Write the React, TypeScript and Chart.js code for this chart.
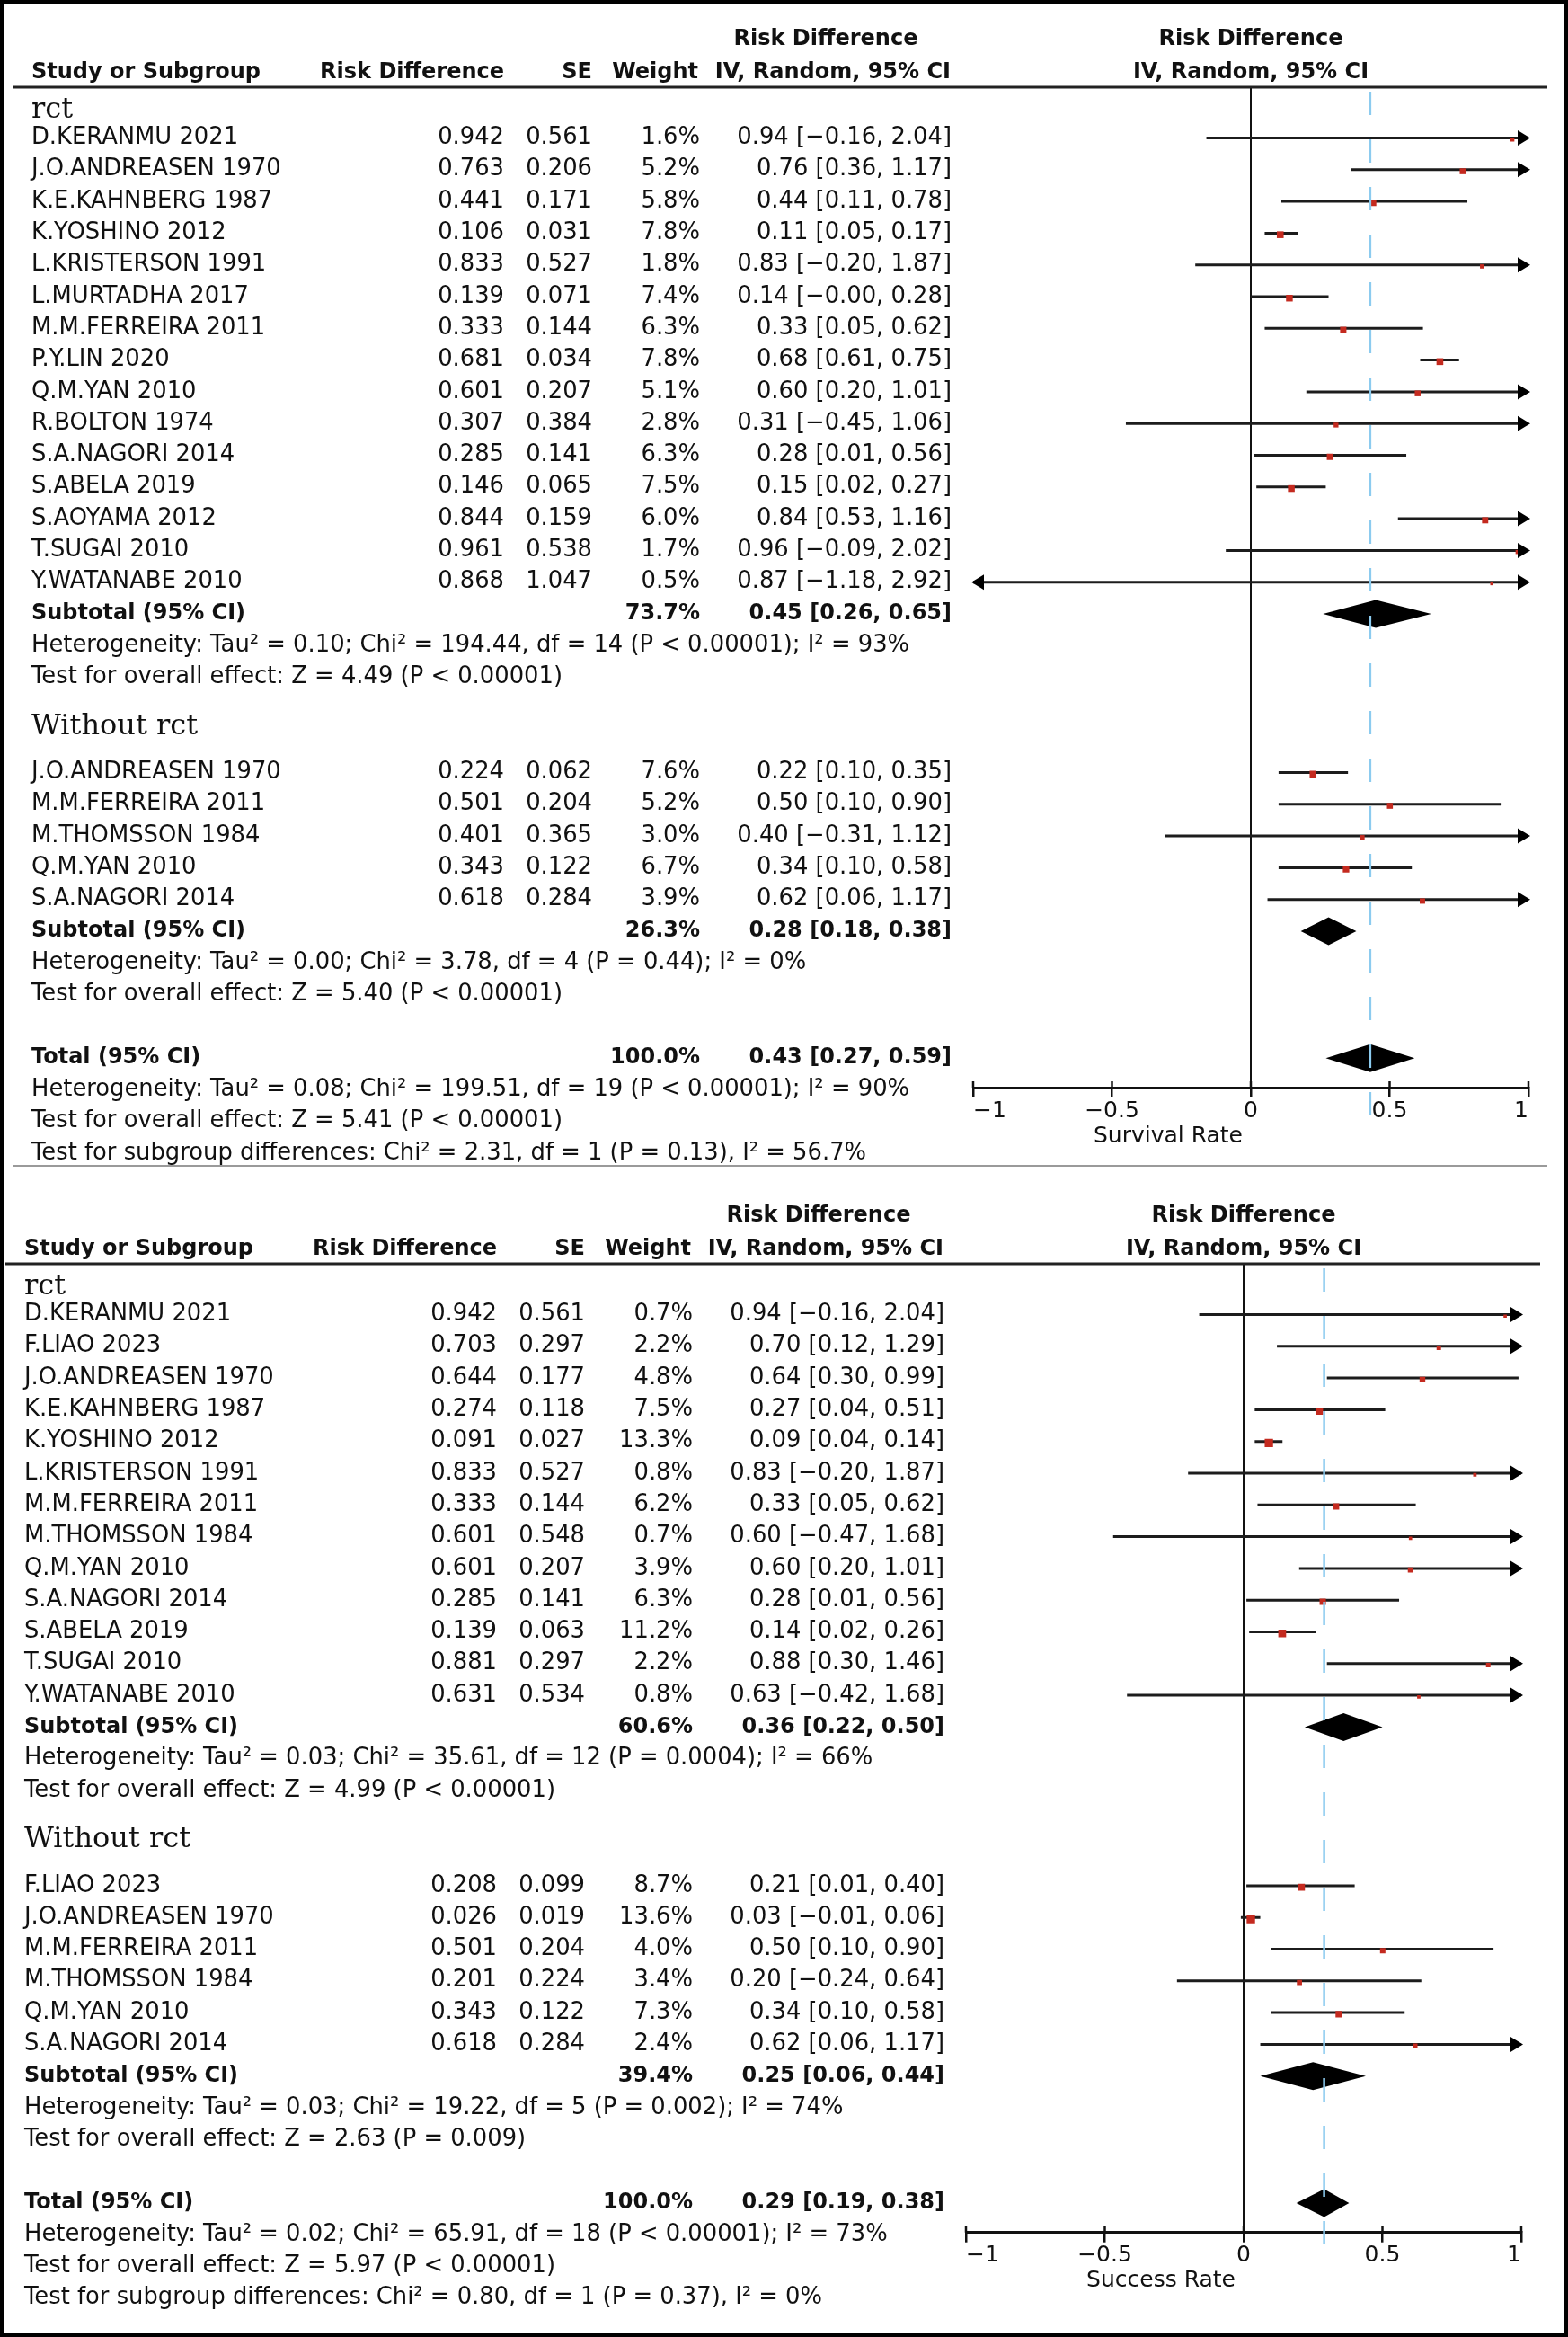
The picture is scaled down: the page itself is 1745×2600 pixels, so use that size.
import React, { useEffect, useRef } from "react";
import { Chart, registerables } from "chart.js";

Chart.register(...registerables);

// ================= Panel 1 — Survival Rate =================
const survRctStudies = ["D.KERANMU 2021", "J.O.ANDREASEN 1970", "K.E.KAHNBERG 1987", "K.YOSHINO 2012", "L.KRISTERSON 1991", "L.MURTADHA 2017", "M.M.FERREIRA 2011", "P.Y.LIN 2020", "Q.M.YAN 2010", "R.BOLTON 1974", "S.A.NAGORI 2014", "S.ABELA 2019", "S.AOYAMA 2012", "T.SUGAI 2010", "Y.WATANABE 2010"];
const survRctRD = [0.942, 0.763, 0.441, 0.106, 0.833, 0.139, 0.333, 0.681, 0.601, 0.307, 0.285, 0.146, 0.844, 0.961, 0.868];
const survRctSE = [0.561, 0.206, 0.171, 0.031, 0.527, 0.071, 0.144, 0.034, 0.207, 0.384, 0.141, 0.065, 0.159, 0.538, 1.047];
const survRctWeight = [1.6, 5.2, 5.8, 7.8, 1.8, 7.4, 6.3, 7.8, 5.1, 2.8, 6.3, 7.5, 6.0, 1.7, 0.5];
const survRctLow = [-0.16, 0.36, 0.11, 0.05, -0.2, -0.0, 0.05, 0.61, 0.2, -0.45, 0.01, 0.02, 0.53, -0.09, -1.18];
const survRctHigh = [2.04, 1.17, 0.78, 0.17, 1.87, 0.28, 0.62, 0.75, 1.01, 1.06, 0.56, 0.27, 1.16, 2.02, 2.92];
const survRctSummary = [0.45, 0.26, 0.65];
const survRctSummaryWeight = 73.7;
const survRctHet = "Heterogeneity: Tau² = 0.10; Chi² = 194.44, df = 14 (P < 0.00001); I² = 93%";
const survRctTest = "Test for overall effect: Z = 4.49 (P < 0.00001)";

const survNonStudies = ["J.O.ANDREASEN 1970", "M.M.FERREIRA 2011", "M.THOMSSON 1984", "Q.M.YAN 2010", "S.A.NAGORI 2014"];
const survNonRD = [0.224, 0.501, 0.401, 0.343, 0.618];
const survNonSE = [0.062, 0.204, 0.365, 0.122, 0.284];
const survNonWeight = [7.6, 5.2, 3.0, 6.7, 3.9];
const survNonLow = [0.1, 0.1, -0.31, 0.1, 0.06];
const survNonHigh = [0.35, 0.9, 1.12, 0.58, 1.17];
const survNonSummary = [0.28, 0.18, 0.38];
const survNonSummaryWeight = 26.3;
const survNonHet = "Heterogeneity: Tau² = 0.00; Chi² = 3.78, df = 4 (P = 0.44); I² = 0%";
const survNonTest = "Test for overall effect: Z = 5.40 (P < 0.00001)";

const survTotal = [0.43, 0.27, 0.59];
const survTotalWeight = 100.0;
const survTotalHet = "Heterogeneity: Tau² = 0.08; Chi² = 199.51, df = 19 (P < 0.00001); I² = 90%";
const survTotalTest = "Test for overall effect: Z = 5.41 (P < 0.00001)";
const survSubgroupTest = "Test for subgroup differences: Chi² = 2.31, df = 1 (P = 0.13), I² = 56.7%";
const survAxisTitle = "Survival Rate";

// ================= Panel 2 — Success Rate =================
const succRctStudies = ["D.KERANMU 2021", "F.LIAO 2023", "J.O.ANDREASEN 1970", "K.E.KAHNBERG 1987", "K.YOSHINO 2012", "L.KRISTERSON 1991", "M.M.FERREIRA 2011", "M.THOMSSON 1984", "Q.M.YAN 2010", "S.A.NAGORI 2014", "S.ABELA 2019", "T.SUGAI 2010", "Y.WATANABE 2010"];
const succRctRD = [0.942, 0.703, 0.644, 0.274, 0.091, 0.833, 0.333, 0.601, 0.601, 0.285, 0.139, 0.881, 0.631];
const succRctSE = [0.561, 0.297, 0.177, 0.118, 0.027, 0.527, 0.144, 0.548, 0.207, 0.141, 0.063, 0.297, 0.534];
const succRctWeight = [0.7, 2.2, 4.8, 7.5, 13.3, 0.8, 6.2, 0.7, 3.9, 6.3, 11.2, 2.2, 0.8];
const succRctLow = [-0.16, 0.12, 0.3, 0.04, 0.04, -0.2, 0.05, -0.47, 0.2, 0.01, 0.02, 0.3, -0.42];
const succRctHigh = [2.04, 1.29, 0.99, 0.51, 0.14, 1.87, 0.62, 1.68, 1.01, 0.56, 0.26, 1.46, 1.68];
const succRctSummary = [0.36, 0.22, 0.5];
const succRctSummaryWeight = 60.6;
const succRctHet = "Heterogeneity: Tau² = 0.03; Chi² = 35.61, df = 12 (P = 0.0004); I² = 66%";
const succRctTest = "Test for overall effect: Z = 4.99 (P < 0.00001)";

const succNonStudies = ["F.LIAO 2023", "J.O.ANDREASEN 1970", "M.M.FERREIRA 2011", "M.THOMSSON 1984", "Q.M.YAN 2010", "S.A.NAGORI 2014"];
const succNonRD = [0.208, 0.026, 0.501, 0.201, 0.343, 0.618];
const succNonSE = [0.099, 0.019, 0.204, 0.224, 0.122, 0.284];
const succNonWeight = [8.7, 13.6, 4.0, 3.4, 7.3, 2.4];
const succNonLow = [0.01, -0.01, 0.1, -0.24, 0.1, 0.06];
const succNonHigh = [0.4, 0.06, 0.9, 0.64, 0.58, 1.17];
const succNonSummary = [0.25, 0.06, 0.44];
const succNonSummaryWeight = 39.4;
const succNonHet = "Heterogeneity: Tau² = 0.03; Chi² = 19.22, df = 5 (P = 0.002); I² = 74%";
const succNonTest = "Test for overall effect: Z = 2.63 (P = 0.009)";

const succTotal = [0.29, 0.19, 0.38];
const succTotalWeight = 100.0;
const succTotalHet = "Heterogeneity: Tau² = 0.02; Chi² = 65.91, df = 18 (P < 0.00001); I² = 73%";
const succTotalTest = "Test for overall effect: Z = 5.97 (P < 0.00001)";
const succSubgroupTest = "Test for subgroup differences: Chi² = 0.80, df = 1 (P = 0.37), I² = 0%";
const succAxisTitle = "Success Rate";

const groupLabels = ["rct", "Without rct"];
const axisTicks = [-1, -0.5, 0, 0.5, 1];

// ================= types & assembly =================
type Group = {
  label: string; studies: string[]; rd: number[]; se: number[]; weight: number[];
  low: number[]; high: number[]; summary: number[]; summaryWeight: number; het: string; test: string;
};
type PanelData = {
  groups: Group[]; total: number[]; totalWeight: number; totalHet: string; totalTest: string;
  subgroupTest: string; axisTitle: string;
};

const survival: PanelData = {
  groups: [
    { label: groupLabels[0], studies: survRctStudies, rd: survRctRD, se: survRctSE, weight: survRctWeight, low: survRctLow, high: survRctHigh, summary: survRctSummary, summaryWeight: survRctSummaryWeight, het: survRctHet, test: survRctTest },
    { label: groupLabels[1], studies: survNonStudies, rd: survNonRD, se: survNonSE, weight: survNonWeight, low: survNonLow, high: survNonHigh, summary: survNonSummary, summaryWeight: survNonSummaryWeight, het: survNonHet, test: survNonTest },
  ],
  total: survTotal, totalWeight: survTotalWeight, totalHet: survTotalHet, totalTest: survTotalTest,
  subgroupTest: survSubgroupTest, axisTitle: survAxisTitle,
};
const success: PanelData = {
  groups: [
    { label: groupLabels[0], studies: succRctStudies, rd: succRctRD, se: succRctSE, weight: succRctWeight, low: succRctLow, high: succRctHigh, summary: succRctSummary, summaryWeight: succRctSummaryWeight, het: succRctHet, test: succRctTest },
    { label: groupLabels[1], studies: succNonStudies, rd: succNonRD, se: succNonSE, weight: succNonWeight, low: succNonLow, high: succNonHigh, summary: succNonSummary, summaryWeight: succNonSummaryWeight, het: succNonHet, test: succNonTest },
  ],
  total: succTotal, totalWeight: succTotalWeight, totalHet: succTotalHet, totalTest: succTotalTest,
  subgroupTest: succSubgroupTest, axisTitle: succAxisTitle,
};

// ================= layout constants =================
const W = 1745;
const ROW = 35.3;
const AXIS_H = 60;
const Y_MIN = -1.6;
type PanelLayout = { top: number; height: number; padTop: number; dx: number };
const layouts: PanelLayout[] = [
  { top: 0, height: 1297, padTop: 97, dx: 0 },
  { top: 1297, height: 1303, padTop: 109, dx: -8 },
];
const COL = { name: 35, rd: 561, se: 659, weight: 779, weightHdr: 777, ci: 1059, ciHdr: 1058, topHdr: 919, lineL: 14, lineR: 1722, plotL: 1083, plotR: 1701 };
const SANS = '"DejaVu Sans"';
const F_REG = `25.8px ${SANS}`;
const F_AXIS = `25px ${SANS}`;
const F_BOLD = `bold 24px ${SANS}`;
const F_SERIF = `32px "DejaVu Serif"`;
const INK = "#111";
const RED = "#c42a1f";
const BLUE = "#8ccbef";

function fmt(v: number) {
  const neg = v < 0 || Object.is(v, -0);
  return (neg ? "\u2212" : "") + Math.abs(v).toFixed(2);
}
function ciText(est: number, lo: number, hi: number) {
  return `${fmt(est)} [${fmt(lo)}, ${fmt(hi)}]`;
}

type RowPlan = {
  groups: { heading: number; start: number; subtotal: number; het: number; test: number }[];
  total: number; totalHet: number; totalTest: number; subgroup: number; yMax: number;
};
function planRows(p: PanelData): RowPlan {
  const groups: RowPlan["groups"] = [];
  let prevTest = -3;
  p.groups.forEach((g, gi) => {
    const start = gi === 0 ? 0 : prevTest + 3;
    const heading = start - (gi === 0 ? 0.88 : 1.45);
    const subtotal = start + g.studies.length;
    groups.push({ heading, start, subtotal, het: subtotal + 1, test: subtotal + 2 });
    prevTest = subtotal + 2;
  });
  const total = prevTest + 2;
  return { groups, total, totalHet: total + 1, totalTest: total + 2, subgroup: total + 3, yMax: total + 0.93 };
}

function ForestPanel({ data, layout }: { data: PanelData; layout: PanelLayout }) {
  const ref = useRef<HTMLCanvasElement | null>(null);
  useEffect(() => {
    if (!ref.current) return;
    const plan = planRows(data);
    const dx = layout.dx;
    const padLeft = COL.plotL + dx;
    const padRight = W - (COL.plotR + dx);
    const padBottom = layout.height - layout.padTop - (plan.yMax - Y_MIN) * ROW - AXIS_H;

    const ciPts: { x: number | null; y: number | null }[] = [];
    const sqPts: { x: number; y: number }[] = [];
    const sqRad: number[] = [];
    data.groups.forEach((g, gi) => {
      g.studies.forEach((_, i) => {
        const r = plan.groups[gi].start + i;
        ciPts.push({ x: Math.max(g.low[i], -1), y: r }, { x: Math.min(g.high[i], 1), y: r }, { x: null, y: null });
        sqPts.push({ x: g.rd[i], y: r + 0.05 });
        const side = 2 + 2 * Math.sqrt(g.weight[i]);
        sqRad.push(side / Math.SQRT2);
      });
    });

    const forest = {
      id: "forest",
      beforeDatasetsDraw(chart: any) {
        const { ctx, chartArea } = chart;
        const X = (v: number) => chart.scales.x.getPixelForValue(v);
        ctx.save();
        ctx.strokeStyle = INK;
        ctx.lineWidth = 2;
        ctx.beginPath();
        ctx.moveTo(X(0), chartArea.top);
        ctx.lineTo(X(0), chartArea.bottom);
        ctx.stroke();
        ctx.restore();
      },
      afterDatasetsDraw(chart: any) {
        const { ctx, chartArea } = chart;
        const X = (v: number) => chart.scales.x.getPixelForValue(v);
        const Y = (v: number) => chart.scales.y.getPixelForValue(v);
        ctx.save();
        ctx.fillStyle = "#000";
        // arrows for intervals outside the axis range
        data.groups.forEach((g, gi) => {
          g.studies.forEach((_, i) => {
            const y = Y(plan.groups[gi].start + i);
            const draw = (dir: number) => {
              const tip = X(dir) + dir * 2;
              ctx.beginPath();
              ctx.moveTo(tip, y);
              ctx.lineTo(tip - dir * 14, y - 8.5);
              ctx.lineTo(tip - dir * 14, y + 8.5);
              ctx.closePath();
              ctx.fill();
            };
            if (g.high[i] > 1) draw(1);
            if (g.low[i] < -1) draw(-1);
          });
        });
        // diamonds
        const diamond = (s: number[], r: number) => {
          const y = Y(r);
          ctx.beginPath();
          ctx.moveTo(X(s[1]), y);
          ctx.lineTo(X(s[0]), y - 15.5);
          ctx.lineTo(X(s[2]), y);
          ctx.lineTo(X(s[0]), y + 15.5);
          ctx.closePath();
          ctx.fill();
        };
        data.groups.forEach((g, gi) => diamond(g.summary, plan.groups[gi].subtotal));
        diamond(data.total, plan.total);
        // pooled-estimate dashed line
        ctx.strokeStyle = BLUE;
        ctx.lineWidth = 2.5;
        ctx.setLineDash([26, 27]);
        ctx.beginPath();
        ctx.moveTo(X(data.total[0]), chartArea.top + 5);
        ctx.lineTo(X(data.total[0]), chartArea.bottom + 32);
        ctx.stroke();
        ctx.restore();
      },
      afterDraw(chart: any) {
        const { ctx, chartArea } = chart;
        const xs = chart.scales.x;
        const X = (v: number) => xs.getPixelForValue(v);
        const Y = (v: number) => chart.scales.y.getPixelForValue(v);
        ctx.save();
        // header underline
        ctx.strokeStyle = "#222";
        ctx.lineWidth = 3;
        ctx.beginPath();
        ctx.moveTo(COL.lineL + dx, chartArea.top);
        ctx.lineTo(COL.lineR + dx, chartArea.top);
        ctx.stroke();
        // upward tick stubs
        ctx.strokeStyle = INK;
        ctx.lineWidth = 2.5;
        xs.ticks.forEach((t: any) => {
          ctx.beginPath();
          ctx.moveTo(X(t.value), chartArea.bottom - 7);
          ctx.lineTo(X(t.value), chartArea.bottom);
          ctx.stroke();
        });
        ctx.fillStyle = INK;
        ctx.textBaseline = "middle";
        const txt = (s: string, x: number, r: number, align: CanvasTextAlign, font: string) => {
          ctx.font = font;
          ctx.textAlign = align;
          ctx.fillText(s, x + dx, Y(r));
        };
        const plotMid = (chartArea.left + chartArea.right) / 2 - dx;
        // column headers
        txt("Risk Difference", COL.topHdr, -3.12, "center", F_BOLD);
        txt("Risk Difference", plotMid, -3.12, "center", F_BOLD);
        txt("Study or Subgroup", COL.name, -2.07, "left", F_BOLD);
        txt("Risk Difference", COL.rd, -2.07, "right", F_BOLD);
        txt("SE", COL.se, -2.07, "right", F_BOLD);
        txt("Weight", COL.weightHdr, -2.07, "right", F_BOLD);
        txt("IV, Random, 95% CI", COL.ciHdr, -2.07, "right", F_BOLD);
        txt("IV, Random, 95% CI", plotMid, -2.07, "center", F_BOLD);
        // groups
        data.groups.forEach((g, gi) => {
          const pl = plan.groups[gi];
          txt(g.label, COL.name, pl.heading, "left", F_SERIF);
          g.studies.forEach((name, i) => {
            const r = pl.start + i;
            txt(name, COL.name, r, "left", F_REG);
            txt(g.rd[i].toFixed(3), COL.rd, r, "right", F_REG);
            txt(g.se[i].toFixed(3), COL.se, r, "right", F_REG);
            txt(g.weight[i].toFixed(1) + "%", COL.weight, r, "right", F_REG);
            txt(ciText(g.rd[i], g.low[i], g.high[i]), COL.ci, r, "right", F_REG);
          });
          txt("Subtotal (95% CI)", COL.name, pl.subtotal, "left", F_BOLD);
          txt(g.summaryWeight.toFixed(1) + "%", COL.weight, pl.subtotal, "right", F_BOLD);
          txt(ciText(g.summary[0], g.summary[1], g.summary[2]), COL.ci, pl.subtotal, "right", F_BOLD);
          txt(g.het, COL.name, pl.het, "left", F_REG);
          txt(g.test, COL.name, pl.test, "left", F_REG);
        });
        txt("Total (95% CI)", COL.name, plan.total, "left", F_BOLD);
        txt(data.totalWeight.toFixed(1) + "%", COL.weight, plan.total, "right", F_BOLD);
        txt(ciText(data.total[0], data.total[1], data.total[2]), COL.ci, plan.total, "right", F_BOLD);
        txt(data.totalHet, COL.name, plan.totalHet, "left", F_REG);
        txt(data.totalTest, COL.name, plan.totalTest, "left", F_REG);
        txt(data.subgroupTest, COL.name, plan.subgroup, "left", F_REG);
        // axis caption
        ctx.font = F_AXIS;
        ctx.textAlign = "right";
        ctx.fillText(data.axisTitle, X(0) - 9, chartArea.bottom + 54);
        ctx.restore();
      },
    };

    const chart = new Chart(ref.current, {
      type: "scatter",
      data: {
        datasets: [
          {
            type: "scatter",
            label: "CI",
            data: ciPts as any,
            showLine: true,
            spanGaps: false,
            borderColor: "#1c1c1c",
            borderWidth: 3,
            borderCapStyle: "butt",
            pointRadius: 0,
            order: 2,
          } as any,
          {
            type: "scatter",
            label: "Estimate",
            data: sqPts,
            pointStyle: "rect",
            pointRadius: sqRad,
            backgroundColor: RED,
            borderWidth: 0,
            order: 1,
          } as any,
        ],
      },
      options: {
        animation: false,
        responsive: true,
        maintainAspectRatio: false,
        events: [],
        layout: { padding: { left: padLeft, right: padRight, top: layout.padTop, bottom: padBottom } },
        plugins: { legend: { display: false }, tooltip: { enabled: false } },
        scales: {
          x: {
            type: "linear",
            position: "bottom",
            min: -1,
            max: 1,
            afterFit: (s: any) => { s.height = AXIS_H; },
            afterBuildTicks: (s: any) => { s.ticks = axisTicks.map((v) => ({ value: v })); },
            ticks: {
              align: "inner",
              padding: 0,
              color: INK,
              maxRotation: 0,
              autoSkip: false,
              font: { family: SANS, size: 25 },
              callback: (v: any) => (Number(v) < 0 ? "\u2212" + Math.abs(Number(v)) : String(v)),
            },
            grid: { drawOnChartArea: false, drawTicks: true, tickLength: 11, color: INK, lineWidth: 2.5 },
            border: { display: true, color: INK, width: 3 },
          } as any,
          y: { type: "linear", reverse: true, min: Y_MIN, max: plan.yMax, display: false },
        },
      },
      plugins: [forest as any],
    });
    return () => chart.destroy();
  }, [data, layout]);

  return (
    <div style={{ position: "absolute", left: 0, top: layout.top, width: W, height: layout.height }}>
      <canvas ref={ref} style={{ display: "block" }} />
    </div>
  );
}

export default function App() {
  return (
    <div style={{ position: "absolute", left: 0, top: 0, width: W, height: 2600, background: "#fff", overflow: "hidden" }}>
      <ForestPanel data={survival} layout={layouts[0]} />
      <ForestPanel data={success} layout={layouts[1]} />
      <div style={{ position: "absolute", left: COL.lineL, top: 1296, width: COL.lineR - COL.lineL, height: 2, background: "#9a9a9a" }} />
      <div style={{ position: "absolute", left: 0, top: 0, width: W, height: 2600, border: "4px solid #000", boxSizing: "border-box", pointerEvents: "none" }} />
    </div>
  );
}
